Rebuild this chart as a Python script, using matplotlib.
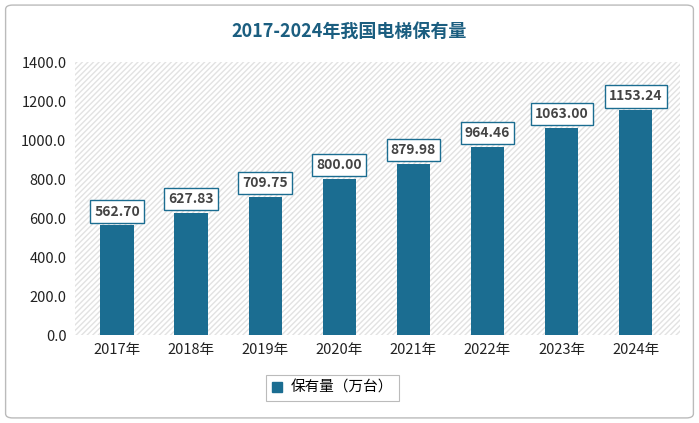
import matplotlib
matplotlib.use("Agg")
import matplotlib.pyplot as plt
from matplotlib.patches import FancyBboxPatch, Rectangle

plt.rcParams["font.family"] = ["Noto Sans CJK JP", "Noto Sans CJK SC", "DejaVu Sans"]

years = ["2017年", "2018年", "2019年", "2020年", "2021年", "2022年", "2023年", "2024年"]
stock = [562.70, 627.83, 709.75, 800.00, 879.98, 964.46, 1063.00, 1153.24]
yticks = [0, 200, 400, 600, 800, 1000, 1200, 1400]

BAR = "#1b6d91"
TITLE = "#1b5e80"

fig = plt.figure(figsize=(6.99, 4.23), dpi=100)
# outer frame
frame = FancyBboxPatch((0.008, 0.012), 0.984, 0.976, boxstyle="round,pad=0,rounding_size=0.01",
                       transform=fig.transFigure, fc="white", ec="#bbbbbb", lw=1.0, zorder=-5)
fig.patches.append(frame)
fig.text(0.5, 0.925, "2017-2024年我国电梯保有量", ha="center", va="center",
         fontsize=13, fontweight="bold", color=TITLE)

ax = fig.add_axes([0.107, 0.208, 0.866, 0.645], zorder=2)
ax.patch.set_alpha(0)
ax.add_patch(Rectangle((0, 0), 1, 1, transform=ax.transAxes, fill=False,
                       hatch="//////", ec="#e2e2e2", lw=0, zorder=0))
x = range(len(years))
ax.bar(x, stock, width=0.45, color=BAR, zorder=2)
for xi, v in zip(x, stock):
    ax.text(xi, v + 35, f"{v:.2f}", ha="center", va="bottom", fontsize=10, fontweight="bold",
            color="#444444", zorder=3,
            bbox=dict(boxstyle="square,pad=0.3", fc="white", ec=BAR, lw=1.0))
ax.set_xlim(-0.57, len(years) - 0.4)
ax.set_ylim(0, 1400)
ax.set_yticks(yticks)
ax.set_yticklabels([f"{t:.1f}" for t in yticks], fontsize=10.5, color="#222222")
ax.set_xticks(list(x))
ax.set_xticklabels(years, fontsize=10.5, color="#222222")
ax.tick_params(length=0, pad=6)
for s in ax.spines.values():
    s.set_visible(False)

leg = ax.legend([Rectangle((0, 0), 1, 1, color=BAR)], ["保有量（万台）"], loc="upper center",
                bbox_to_anchor=(0.426, -0.12), frameon=True, fontsize=10.5, fancybox=False,
                handlelength=0.7, handleheight=0.7, borderpad=0.4, handletextpad=0.6)
leg.get_frame().set_edgecolor("#aaaaaa")
leg.get_frame().set_linewidth(0.8)

fig.savefig("out.png", dpi=100)
